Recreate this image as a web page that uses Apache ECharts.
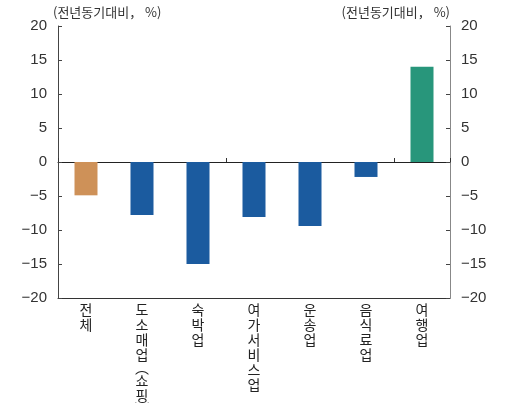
<!DOCTYPE html>
<html><head><meta charset="utf-8">
<script src="https://cdn.jsdelivr.net/npm/echarts@6/dist/echarts.min.js"></script>
<style>html,body{margin:0;padding:0;background:#fff}#c{width:506px;height:403px}</style>
</head><body><div id="c"></div>
<script>
const categories = ['전체','도소매업︵쇼핑︶','숙박업','여가서비스업','운송업','음식료업','여행업'];
const values = [-4.9, -7.8, -15.0, -8.1, -9.4, -2.2, 14.0];
const barColors = ['#CE9158','#1B5B9F','#1B5B9F','#1B5B9F','#1B5B9F','#1B5B9F','#28967B'];
const yTicks = {min: -20, max: 20, interval: 5};
const unitLabel = '(전년동기대비， %)';

const chart = echarts.init(document.getElementById('c'), null, {renderer: 'canvas'});
const numFont = 'Liberation Sans, Arial, sans-serif';
const krFont = '"Noto Sans CJK KR", sans-serif';
const fmt = v => String(v).replace('-', '\u2212');
const vert = s => s.split('').map(ch => (ch === '︵' || ch === '︶') ? '{p|' + ch + '}' : '{c|' + ch + '}').join('\n');
chart.setOption({
  animation: false,
  grid: {left: 58, right: 56, top: 26, bottom: 105, containLabel: false, outerBoundsMode: 'none'},
  xAxis: [
    {type: 'category', data: categories, axisLine: {onZero: true, lineStyle: {color: '#222', width: 1}},
     axisTick: {show: true, inside: true, length: 4, lineStyle: {color: '#333'}},
     axisLabel: {show: false}, splitLine: {show: false}},
    {type: 'category', data: categories, position: 'bottom',
     axisLine: {onZero: false, lineStyle: {color: '#333', width: 1}},
     axisTick: {show: false},
     axisLabel: {interval: 0, margin: 4, color: '#222', formatter: vert,
       rich: {c: {fontFamily: krFont, fontSize: 14, lineHeight: 15, color: '#222'},
              p: {fontFamily: krFont, fontSize: 14, lineHeight: 11, color: '#222'}}}}
  ],
  yAxis: [
    {type: 'value', min: yTicks.min, max: yTicks.max, interval: yTicks.interval, position: 'left',
     name: unitLabel, nameLocation: 'end', nameGap: 7,
     nameTextStyle: {align: 'left', fontFamily: krFont, fontSize: 13, color: '#333', padding: [0, 0, 0, -5]},
     axisLine: {show: true, lineStyle: {color: '#444'}},
     axisTick: {show: true, inside: true, length: 4, lineStyle: {color: '#444'}},
     splitLine: {show: false},
     axisLabel: {formatter: fmt, fontFamily: numFont, fontSize: 15, color: '#333', margin: 11}},
    {type: 'value', min: yTicks.min, max: yTicks.max, interval: yTicks.interval, position: 'right',
     name: unitLabel, nameLocation: 'end', nameGap: 7,
     nameTextStyle: {align: 'right', fontFamily: krFont, fontSize: 13, color: '#333', padding: [0, 0, 0, 0]},
     axisLine: {show: true, lineStyle: {color: '#888'}},
     axisTick: {show: true, inside: true, length: 4, lineStyle: {color: '#444'}},
     splitLine: {show: false},
     axisLabel: {formatter: fmt, fontFamily: numFont, fontSize: 15, color: '#333', margin: 11}}
  ],
  series: [{type: 'bar', xAxisIndex: 0, yAxisIndex: 0, barWidth: 23,
    data: values.map((v, i) => ({value: v, itemStyle: {color: barColors[i]}}))}]
});
</script></body></html>
